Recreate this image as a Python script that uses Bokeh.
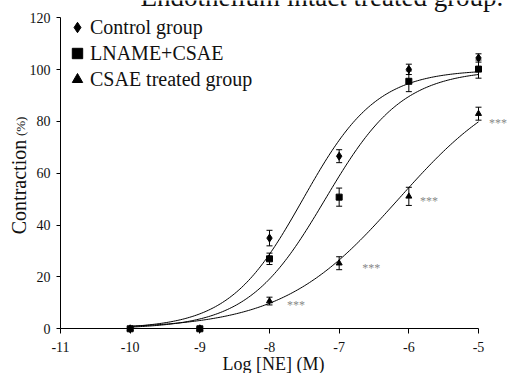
import numpy as np
from bokeh.plotting import figure
from bokeh.models import (ColumnDataSource, Whisker, TeeHead, Label, Legend,
                          LegendItem, FixedTicker, PrintfTickFormatter)
from bokeh.core.properties import value
from bokeh.embed import file_html
from bokeh.resources import INLINE

# ---- data ----
log_ne = [-10, -9, -8, -7, -6, -5]

control_mean = [0, 0, 35.0, 66.6, 100.1, 104.5]
control_err = [0.5, 0.5, 3.0, 2.5, 2.0, 1.6]

lname_mean = [0, 0, 27.0, 50.8, 95.5, 100.2]
lname_err = [0.5, 0.5, 2.2, 3.5, 4.0, 3.5]

csae_mean = [0, 0, 10.7, 25.3, 51.1, 83.0]
csae_err = [0.5, 0.5, 1.5, 2.5, 3.5, 2.5]

# fitted sigmoid (Hill) parameters: bottom, top, logEC50, hill slope
control_fit = (0.0, 100.0, -7.52, 0.82)
lname_fit = (0.0, 100.0, -7.20, 0.78)
csae_fit = (0.0, 100.0, -6.15, 0.52)

star_x = [-7.62, -6.54, -5.71, -4.72]
star_y = [9.0, 23.5, 49.5, 79.4]
star_text = ["***", "***", "***", "***"]

x_ticks = [-11, -10, -9, -8, -7, -6, -5]
y_ticks = [0, 20, 40, 60, 80, 100, 120]

SERIF = "Liberation Serif, Times New Roman, DejaVu Serif, serif"
INK = "#111111"

# the frame covers the whole canvas; axes sit at fixed data locations
p = figure(width=508, height=373,
           x_range=(-11.8612, -4.5694), y_range=(-17.25, 126.67),
           output_backend="svg", toolbar_location=None,
           min_border=0)
p.outline_line_color = None
p.xgrid.visible = False
p.ygrid.visible = False

xa, ya = p.xaxis[0], p.yaxis[0]
for ax in (xa, ya):
    ax.axis_line_color = "black"
    ax.major_tick_line_color = "black"
    ax.minor_tick_line_color = None
    ax.major_label_text_font = SERIF
    ax.major_label_text_font_size = "14px"
    ax.major_label_text_color = INK
    ax.major_tick_in = 0
    ax.formatter = PrintfTickFormatter(format="%d")
xa.ticker = FixedTicker(ticks=x_ticks)
ya.ticker = FixedTicker(ticks=y_ticks)
xa.fixed_location = 0
ya.fixed_location = -11
xa.bounds = (-11, -5)
ya.bounds = (0, 120)
xa.major_tick_out = 5
ya.major_tick_out = 4
xa.major_label_standoff = 8
ya.major_label_standoff = 6

# fitted curves
xs = np.linspace(-10, -5, 201)


def hill(x, params):
    b, t, ec, h = params
    return b + (t - b) / (1 + 10 ** ((ec - x) * h))


for fit in (control_fit, lname_fit, csae_fit):
    p.line(xs, hill(xs, fit), line_color="black", line_width=1)

renderers = []
for mean, err, marker, size in ((control_mean, control_err, "diamond", 8),
                                (lname_mean, lname_err, "square", 6),
                                (csae_mean, csae_err, "triangle", 6)):
    src = ColumnDataSource(dict(x=log_ne, y=mean,
                                lo=[m - e for m, e in zip(mean, err)],
                                hi=[m + e for m, e in zip(mean, err)]))
    w = Whisker(source=src, base="x", lower="lo", upper="hi",
                line_color="black", line_width=1,
                lower_head=TeeHead(size=6, line_color="black", line_width=1),
                upper_head=TeeHead(size=6, line_color="black", line_width=1))
    p.add_layout(w)
    r = p.scatter("x", "y", source=src, marker=marker, size=size,
                  fill_color="black", line_color="black")
    renderers.append(r)

legend = Legend(items=[LegendItem(label="Control group", renderers=[renderers[0]]),
                       LegendItem(label="LNAME+CSAE", renderers=[renderers[1]]),
                       LegendItem(label="CSAE treated group", renderers=[renderers[2]])],
                location=(64, 281), padding=0, margin=0, spacing=0,
                glyph_width=26, glyph_height=26, label_height=26,
                label_standoff=-3, label_text_font=SERIF,
                label_text_font_size="20px", label_text_color=INK,
                background_fill_alpha=0, border_line_color=None)
p.add_layout(legend)

# significance stars
p.text(x=star_x, y=star_y, text=star_text, text_font=value(SERIF),
       text_font_size="12px", text_color="#888888",
       text_align="center", text_baseline="middle")

# axis titles and the cropped heading
p.add_layout(Label(x=-7.943, y=-13.74, text="Log [NE] (M)", text_font=SERIF,
                   text_font_size="18px", text_align="center",
                   text_baseline="middle", text_color=INK))
p.add_layout(Label(x=-11.599, y=54.7, text="Contraction", text_font=SERIF,
                   text_font_size="20px", text_align="center", angle=np.pi / 2,
                   text_baseline="middle", text_color=INK))
p.add_layout(Label(x=-11.577, y=78.1, text="(%)", text_font=SERIF,
                   text_font_size="13px", text_align="center", angle=np.pi / 2,
                   text_baseline="middle", text_color=INK))
p.add_layout(Label(x=-9.852, y=128.0, text="Endothelium intact treated group.",
                   text_font=SERIF, text_font_size="27px", text_align="left",
                   text_baseline="middle", text_color=INK))

open("out.html", "w").write(file_html(p, INLINE))
